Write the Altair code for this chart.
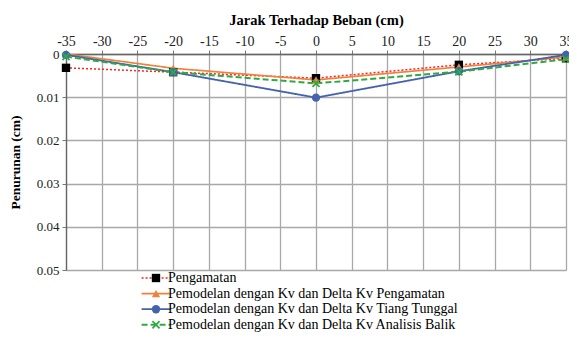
import altair as alt
import pandas as pd

x_pos = [-35, -20, 0, 20, 35]
series_names = [
    "Pengamatan",
    "Pemodelan dengan Kv dan Delta Kv Pengamatan",
    "Pemodelan dengan Kv dan Delta Kv Tiang Tunggal",
    "Pemodelan dengan Kv dan Delta Kv Analisis Balik",
]
codes = ["a", "b", "c", "d"]
pengamatan = [0.0032, 0.0042, 0.0056, 0.0025, 0.0010]
kv_pengamatan = [0.0, 0.0033, 0.0060, 0.0030, 0.0007]
kv_tiang = [0.0002, 0.0042, 0.0101, 0.0040, 0.0002]
kv_balik = [0.0006, 0.0042, 0.0068, 0.0041, 0.0012]
all_values = [pengamatan, kv_pengamatan, kv_tiang, kv_balik]

x_ticks = list(range(-35, 36, 5))
y_ticks = [0, 0.01, 0.02, 0.03, 0.04, 0.05]

line_colors = ["#ff2020", "#f0803a", "#4563ad", "#2eaa45"]
marker_colors = ["#000000", "#f0803a", "#4563ad", "#2eaa45"]
dashes = [[2, 2], [1, 0], [1, 0], [6, 3]]
widths = [1.5, 2, 2, 2.2]
x_path = "M-1,-0.7L-0.7,-1L0,-0.3L0.7,-1L1,-0.7L0.3,0L1,0.7L0.7,1L0,0.3L-0.7,1L-1,0.7L-0.3,0Z"
shapes = ["square", "triangle-up", "circle", x_path]

rows = []
for name, code, vals in zip(series_names, codes, all_values):
    for xv, yv in zip(x_pos, vals):
        rows.append({"x": xv, "y": yv, "series": name, "code": code})
df = pd.DataFrame(rows)

FONT = "Liberation Serif"

x_enc = alt.X(
    "x:Q",
    scale=alt.Scale(domain=[-35, 35], nice=False, zero=False),
    axis=alt.Axis(
        orient="top", values=x_ticks, title="Jarak Terhadap Beban (cm)",
        labelExpr="toString(datum.value)",
        titleFont=FONT, titleFontSize=14.5, titleFontWeight="bold", titleColor="#000",
        titlePadding=7, labelFont=FONT, labelFontSize=14, labelColor="#222",
        labelPadding=2, tickSize=4, tickColor="#777", domainColor="#666",
        domainWidth=1.3, gridColor="#a8a8a8", gridWidth=1.3, labelFlush=False,
    ),
)
y_enc = alt.Y(
    "y:Q",
    scale=alt.Scale(domain=[0, 0.05], reverse=True, nice=False, zero=False),
    axis=alt.Axis(
        values=y_ticks, format=".2~f", title="Penurunan (cm)",
        titleFont=FONT, titleFontSize=13.5, titleFontWeight="bold", titleColor="#000",
        titlePadding=14, labelFont=FONT, labelFontSize=13, labelColor="#222",
        labelPadding=3, tickSize=4, tickColor="#777", domainColor="#666",
        domainWidth=1.3, gridColor="#a8a8a8", gridWidth=1.3, labelFlush=False,
    ),
)

legA = alt.Legend(
    title=None, orient="none", legendX=83, legendY=217, symbolType="M-3.6,0H3.6",
    symbolSize=64, labelFontSize=14, labelFont=FONT, labelExpr="' '",
    rowPadding=1.6, labelOffset=5, padding=0, labelLimit=0,
)
legB = alt.Legend(
    title=None, orient="none", legendX=83, legendY=217, symbolSize=70,
    labelFontSize=14, labelFont=FONT, labelColor="#000", rowPadding=1.6,
    labelOffset=5, padding=0, symbolStrokeWidth=0, labelLimit=0,
)

lines = alt.Chart(df).mark_line().encode(
    x=x_enc, y=y_enc,
    color=alt.Color("code:N", scale=alt.Scale(domain=codes, range=line_colors), legend=legA),
    strokeDash=alt.StrokeDash("code:N", scale=alt.Scale(domain=codes, range=dashes), legend=legA),
    strokeWidth=alt.StrokeWidth("code:N", scale=alt.Scale(domain=codes, range=widths), legend=legA),
)
points = alt.Chart(df).mark_point(filled=True, size=70, opacity=1).encode(
    x=x_enc, y=y_enc,
    fill=alt.Fill("series:N", scale=alt.Scale(domain=series_names, range=marker_colors), legend=legB),
    shape=alt.Shape("series:N", scale=alt.Scale(domain=series_names, range=shapes), legend=legB),
)

chart = (
    alt.layer(lines, points)
    .properties(
        width=500, height=216, background="white",
        autosize=alt.AutoSizeParams(type="none"),
        padding={"left": 58, "top": 46, "right": 3, "bottom": 63},
    )
    .configure_view(stroke=None)
)
chart.save("out.html", embed_options={"renderer": "svg", "actions": False})
